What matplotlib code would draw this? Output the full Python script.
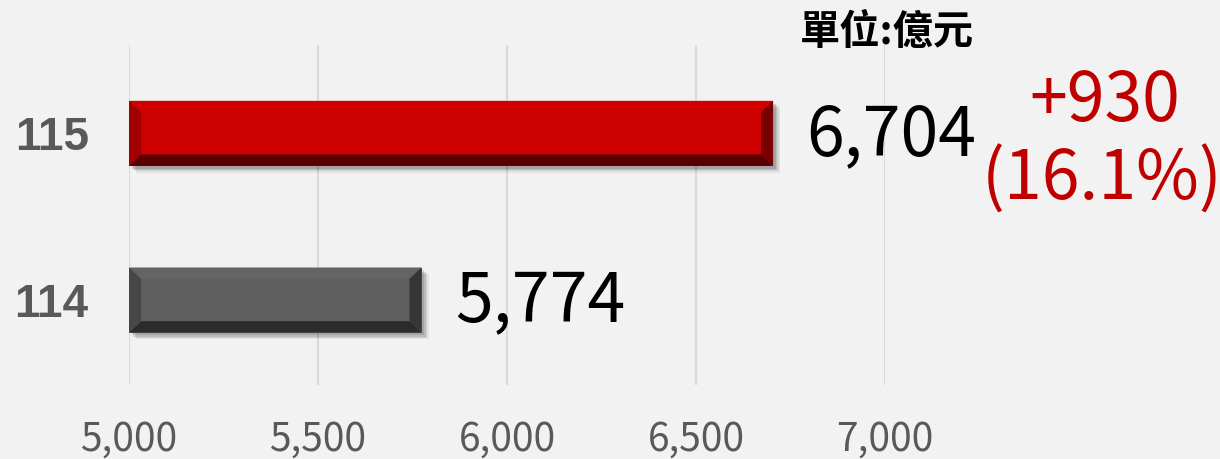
import matplotlib
matplotlib.use("Agg")
import matplotlib.pyplot as plt
from matplotlib.patches import Polygon
import matplotlib.patheffects as pe

# ---- data ----
categories = ["114", "115"]
values = [5774, 6704]
value_labels = ["5,774", "6,704"]
change_label = "+930"
pct_label = "(16.1%)"
unit_label = "單位:億元"
xticks = [5000, 5500, 6000, 6500, 7000]
xtick_labels = ["5,000", "5,500", "6,000", "6,500", "7,000"]

# ---- style ----
W, H = 1220, 459
BG = "#f2f2f2"
face_cols = ["#5f5f5f", "#cc0000"]
top_cols = ["#646464", "#d00000"]
left_cols = ["#474747", "#a00000"]
right_cols = ["#363636", "#7a0000"]
bottom_cols = ["#2b2b2b", "#560000"]
NUM_FONT = ["Noto Sans CJK TC", "DejaVu Sans"]

fig = plt.figure(figsize=(W / 100, H / 100), dpi=100, facecolor=BG)
ax = fig.add_axes([129 / W, (H - 385) / H, (885 - 129) / W, (385 - 45) / H])
ax.set_facecolor(BG)

ypos = list(range(len(categories)))
bar_h = 0.39
bars = ax.barh(ypos, [v - 5000 for v in values], left=5000, height=bar_h,
               color=face_cols, zorder=3)
for b in bars:
    b.set_path_effects([
        pe.SimplePatchShadow(offset=(5, -5), shadow_rgbFace="#000000", alpha=0.06),
        pe.SimplePatchShadow(offset=(4, -4), shadow_rgbFace="#000000", alpha=0.08),
        pe.SimplePatchShadow(offset=(3, -3), shadow_rgbFace="#000000", alpha=0.10),
        pe.SimplePatchShadow(offset=(2, -2), shadow_rgbFace="#000000", alpha=0.12),
        pe.Normal()])

ax.set_xlim(5000, 7000)
ax.set_ylim(-0.51, 1.53)

# bevel decoration derived from each bar
bx = 32.0   # horizontal bevel (data units)
by = 0.068  # vertical bevel (data units)
for i, (y, v) in enumerate(zip(ypos, values)):
    x0, x1 = 5000, v
    y0, y1 = y - bar_h / 2, y + bar_h / 2
    polys = [
        ([(x0, y1), (x1, y1), (x1 - bx, y1 - by), (x0 + bx, y1 - by)], top_cols[i]),
        ([(x0, y0), (x1, y0), (x1 - bx, y0 + by), (x0 + bx, y0 + by)], bottom_cols[i]),
        ([(x0, y0), (x0, y1), (x0 + bx, y1 - by), (x0 + bx, y0 + by)], left_cols[i]),
        ([(x1, y0), (x1, y1), (x1 - bx, y1 - by), (x1 - bx, y0 + by)], right_cols[i]),
    ]
    for pts, c in polys:
        ax.add_patch(Polygon(pts, closed=True, facecolor=c, edgecolor="none", zorder=4))
    ax.annotate(value_labels[i], xy=(v, y), xytext=(24, -2), textcoords="offset points",
                ha="left", va="center", fontsize=49, color="black", family=NUM_FONT,
                annotation_clip=False)

ax.set_xticks(xticks)
ax.set_xticklabels(xtick_labels, family=NUM_FONT, fontsize=28, color="#595959")
ax.set_yticks(ypos)
ax.set_yticklabels(categories, family=["Liberation Sans", "DejaVu Sans"], fontweight="bold",
                   fontsize=33, color="#595959")
ax.tick_params(axis="both", length=0)
ax.tick_params(axis="x", pad=25)
ax.tick_params(axis="y", pad=29)
ax.grid(axis="x", color="#d9d9d9", linewidth=1.5, zorder=0)
for s in ax.spines.values():
    s.set_visible(False)

fig.text(1105 / W, 1 - 102 / H, change_label, ha="center", va="center", fontsize=49,
         color="#c00000", family=NUM_FONT)
fig.text(1102 / W, 1 - 181 / H, pct_label, ha="center", va="center", fontsize=49,
         color="#c00000", family=NUM_FONT)
fig.text(887 / W, 1 - 33 / H, unit_label, ha="center", va="center", fontsize=29,
         fontweight="bold", color="black", family=NUM_FONT)

fig.savefig("out.png", dpi=100, facecolor=BG)
